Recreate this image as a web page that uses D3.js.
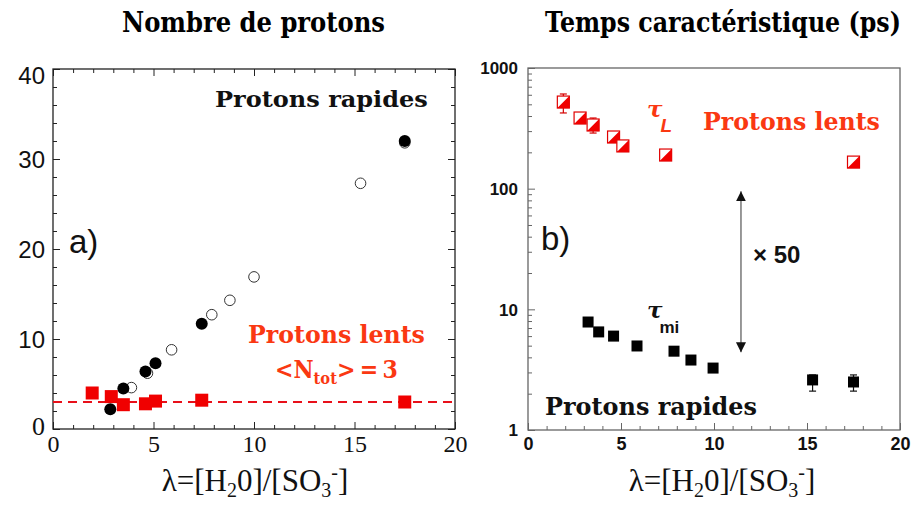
<!DOCTYPE html>
<html><head><meta charset="utf-8">
<script src="https://cdn.jsdelivr.net/npm/d3@7"></script>
<style>body{margin:0;background:#fff}</style>
</head><body>
<svg id="c" width="915" height="511"></svg>
<script>
// ---------- data ----------
const xTickValues = [0, 5, 10, 15, 20];
const nTickValues = [0, 10, 20, 30, 40];
const tauTickValues = [1, 10, 100, 1000];

// Panel a) : number of protons
const fastFilledX = [2.85, 3.5, 4.6, 5.1, 7.4, 17.5];
const fastFilledY = [2.2, 4.5, 6.4, 7.3, 11.7, 32.0];
const fastOpenX = [3.9, 4.7, 5.9, 7.9, 8.8, 10.0, 15.3, 17.5];
const fastOpenY = [4.6, 6.2, 8.8, 12.7, 14.3, 16.9, 27.3, 31.8];
const slowNX = [1.95, 2.9, 3.5, 4.6, 5.1, 7.4, 17.5];
const slowNY = [4.0, 3.6, 2.7, 2.8, 3.1, 3.2, 3.0];
const slowMean = 3;

// Panel b) : characteristic times (ps)
const tauLX = [1.9, 2.8, 3.5, 4.6, 5.1, 7.4, 17.5];
const tauLY = [522, 385, 337, 268, 226, 190, 166];
const tauLErrLo = [424, null, 289, null, null, null, null];
const tauLErrHi = [609, null, 385, null, null, null, null];
const tauMiX = [3.23, 3.8, 4.6, 5.86, 7.85, 8.76, 9.95, 15.3, 17.5];
const tauMiY = [7.85, 6.5, 6.0, 4.97, 4.5, 3.8, 3.26, 2.6, 2.5];
const tauMiErrLo = [null, null, null, null, null, null, null, 2.1, 2.1];
const tauMiErrHi = [null, null, null, null, null, null, null, 2.86, 2.86];
const arrowX = 11.45, arrowTop = 95, arrowBottom = 4.4;

// ---------- setup ----------
const svg = d3.select("#c");
const RED = "#f00000";
const TXTRED = "#fa3812";
const serif = "'DejaVu Serif', serif";
const tserif = "'Liberation Serif', serif";
const sans = "'Liberation Sans', Arial, sans-serif";

const xL = d3.scaleLinear([0, 20], [53, 455]);
const yL = d3.scaleLinear([0, 40], [429, 69]);
const xR = d3.scaleLinear([0, 20], [528, 900]);
const yR = d3.scaleLog([1, 1000], [430, 68]);

// horizontally scale a text (placed at its x,y) so that it spans width w
function fitText(sel, w) {
  const x = +sel.attr("x"), y = +sel.attr("y");
  const bw = sel.node().getBBox().width;
  sel.attr("x", 0).attr("y", 0)
    .attr("transform", `translate(${x},${y}) scale(${w / bw},1)`);
  return sel;
}

// ---------- titles ----------
fitText(svg.append("text").attr("x", 122).attr("y", 32)
  .attr("font-family", serif).attr("font-weight", "bold").attr("font-size", 27)
  .text("Nombre de protons"), 263);
fitText(svg.append("text").attr("x", 545).attr("y", 32)
  .attr("font-family", serif).attr("font-weight", "bold").attr("font-size", 27)
  .text("Temps caractéristique (ps)"), 356);

// ---------- panel a ----------
const gA = svg.append("g");
function ticks(g, axis, tx, ty) {
  const t = g.append("g").attr("transform", `translate(${tx},${ty})`).call(axis);
  t.select(".domain").remove();
  t.selectAll("line").attr("stroke", "#222").attr("stroke-width", 1);
  return t;
}
const minorX = d3.range(0, 21, 1).filter(v => v % 5 !== 0);
const majorX = xTickValues;
const minorN = d3.range(0, 41, 2).filter(v => v % 10 !== 0);
ticks(gA, d3.axisBottom(xL).tickValues(minorX).tickSize(-4).tickFormat(""), 0, yL(0));
ticks(gA, d3.axisBottom(xL).tickValues(majorX).tickSize(-7).tickFormat(""), 0, yL(0));
ticks(gA, d3.axisTop(xL).tickValues(minorX).tickSize(-4).tickFormat(""), 0, yL(40));
ticks(gA, d3.axisTop(xL).tickValues(majorX).tickSize(-7).tickFormat(""), 0, yL(40));
ticks(gA, d3.axisLeft(yL).tickValues(minorN).tickSize(-4).tickFormat(""), xL(0), 0);
ticks(gA, d3.axisLeft(yL).tickValues(nTickValues).tickSize(-7).tickFormat(""), xL(0), 0);
ticks(gA, d3.axisRight(yL).tickValues(minorN).tickSize(-4).tickFormat(""), xL(20), 0);
ticks(gA, d3.axisRight(yL).tickValues(nTickValues).tickSize(-7).tickFormat(""), xL(20), 0);

gA.append("rect").attr("x", xL(0)).attr("y", yL(40))
  .attr("width", xL(20) - xL(0)).attr("height", yL(0) - yL(40))
  .attr("fill", "none").attr("stroke", "#222").attr("stroke-width", 1.3);

// tick labels a
const labXA = gA.append("g").attr("transform", `translate(0,${yL(0) + 6})`)
  .call(d3.axisBottom(xL).tickValues(xTickValues).tickSize(0).tickPadding(0));
labXA.select(".domain").remove();
labXA.selectAll("text").attr("font-family", tserif).attr("font-size", 24).attr("fill", "#111").attr("dy", "0.7em");
const labYA = gA.append("g").attr("transform", `translate(${xL(0) - 8},0)`)
  .call(d3.axisLeft(yL).tickValues(nTickValues).tickSize(0).tickPadding(0));
labYA.select(".domain").remove();
labYA.selectAll("text").attr("font-family", d => d === 0 ? tserif : sans)
  .attr("font-size", d => d === 0 ? 26 : 24).attr("fill", "#111")
  .attr("dy", d => d === 40 ? "0.62em" : (d === 0 ? "0.2em" : "0.36em"));

// dashed mean line
gA.append("line").attr("x1", xL(0)).attr("x2", xL(20)).attr("y1", yL(slowMean)).attr("y2", yL(slowMean))
  .attr("stroke", "#e8101a").attr("stroke-width", 2).attr("stroke-dasharray", "9,6");

gA.selectAll("circle.open").data(fastOpenX).join("circle").attr("class", "open")
  .attr("cx", d => xL(d)).attr("cy", (d, i) => yL(fastOpenY[i])).attr("r", 5.3)
  .attr("fill", "#fff").attr("stroke", "#333").attr("stroke-width", 1);
gA.selectAll("circle.fill").data(fastFilledX).join("circle").attr("class", "fill")
  .attr("cx", d => xL(d)).attr("cy", (d, i) => yL(fastFilledY[i])).attr("r", 6)
  .attr("fill", "#000");
gA.selectAll("rect.slow").data(slowNX).join("rect").attr("class", "slow")
  .attr("x", d => xL(d) - 6.5).attr("y", (d, i) => yL(slowNY[i]) - 6.5)
  .attr("width", 13).attr("height", 13).attr("fill", RED);

// annotations a
fitText(gA.append("text").attr("x", 215).attr("y", 107).attr("font-family", serif)
  .attr("font-weight", "bold").attr("font-size", 22).attr("fill", "#111").text("Protons rapides"), 213);
gA.append("text").attr("x", 69).attr("y", 253).attr("font-family", sans)
  .attr("font-size", 33).attr("fill", "#111").text("a)");
fitText(gA.append("text").attr("x", 248).attr("y", 343).attr("font-family", serif)
  .attr("font-weight", "bold").attr("font-size", 25).attr("fill", TXTRED).text("Protons lents"), 177);
const nt = gA.append("text").attr("x", 275).attr("y", 378).attr("font-family", serif)
  .attr("font-weight", "bold").attr("font-size", 24).attr("fill", TXTRED);
nt.append("tspan").text("<N");
nt.append("tspan").attr("font-size", 16).attr("dy", 6).text("tot");
nt.append("tspan").attr("dy", -6).text(">\u2009=\u20093");
fitText(nt, 123);

// x titles
function lambdaTitle(cx) {
  const t = svg.append("text").attr("x", cx).attr("y", 491).attr("text-anchor", "middle")
    .attr("font-family", tserif).attr("font-size", 31).attr("fill", "#111");
  t.append("tspan").text("λ=[H");
  t.append("tspan").attr("font-size", 20).attr("dy", 6).text("2");
  t.append("tspan").attr("dy", -6).text("0]/[SO");
  t.append("tspan").attr("font-size", 20).attr("dy", 6).text("3");
  t.append("tspan").attr("font-size", 20).attr("dy", -18).text("-");
  t.append("tspan").attr("dy", 12).text("]");
}
lambdaTitle(255);
lambdaTitle(722);

// ---------- panel b ----------
const gB = svg.append("g");
const minorXR = d3.range(0, 21, 1).filter(v => v % 5 !== 0);
const logMinor = [];
[1, 10, 100].forEach(dec => d3.range(2, 10).forEach(m => logMinor.push(dec * m)));
ticks(gB, d3.axisBottom(xR).tickValues(minorXR).tickSize(-4).tickFormat(""), 0, yR(1));
ticks(gB, d3.axisBottom(xR).tickValues(xTickValues).tickSize(-7).tickFormat(""), 0, yR(1));
ticks(gB, d3.axisLeft(yR).tickValues(logMinor).tickSize(-4).tickFormat(""), xR(0), 0);
ticks(gB, d3.axisLeft(yR).tickValues(tauTickValues).tickSize(-7).tickFormat(""), xR(0), 0);
gB.selectAll("line").attr("stroke", "#666");
gB.append("rect").attr("x", xR(0)).attr("y", yR(1000))
  .attr("width", xR(20) - xR(0)).attr("height", yR(1) - yR(1000))
  .attr("fill", "none").attr("stroke", "#666").attr("stroke-width", 1.3);

const labXB = gB.append("g").attr("transform", `translate(0,${yR(1) + 7})`)
  .call(d3.axisBottom(xR).tickValues(xTickValues).tickSize(0).tickPadding(0));
labXB.select(".domain").remove();
labXB.selectAll("text").attr("font-family", sans).attr("font-weight", "bold").attr("font-size", 18)
  .attr("fill", "#111").attr("dy", "0.72em");
const labYB = gB.append("g").attr("transform", `translate(${xR(0) - 10},0)`)
  .call(d3.axisLeft(yR).tickValues(tauTickValues).tickSize(0).tickPadding(0).tickFormat(d3.format("d")));
labYB.select(".domain").remove();
labYB.selectAll("text").attr("font-family", sans).attr("font-weight", "bold").attr("font-size", 17)
  .attr("fill", "#111").attr("dy", "0.35em");

// error bars
function errBars(g, xs, lo, hi, xs_, ys_, color) {
  xs.forEach((x, i) => {
    if (lo[i] == null) return;
    const px = xs_(x), y1 = ys_(lo[i]), y2 = ys_(hi[i]);
    g.append("line").attr("x1", px).attr("x2", px).attr("y1", y1).attr("y2", y2).attr("stroke", color).attr("stroke-width", 1.2);
    [y1, y2].forEach(y => g.append("line").attr("x1", px - 3.5).attr("x2", px + 3.5).attr("y1", y).attr("y2", y)
      .attr("stroke", color).attr("stroke-width", 1.2));
  });
}
errBars(gB, tauLX, tauLErrLo, tauLErrHi, xR, yR, "#d40000");
errBars(gB, tauMiX, tauMiErrLo, tauMiErrHi, xR, yR, "#111");

// half filled squares
const s = 12;
const hs = gB.selectAll("g.hs").data(tauLX).join("g").attr("class", "hs")
  .attr("transform", (d, i) => `translate(${xR(d)},${yR(tauLY[i])})`);
hs.append("rect").attr("x", -s / 2).attr("y", -s / 2).attr("width", s).attr("height", s)
  .attr("fill", "#fff").attr("stroke", "#e00000").attr("stroke-width", 1.2);
hs.append("path").attr("d", `M${s / 2},${-s / 2}L${s / 2},${s / 2}L${-s / 2},${s / 2}Z`).attr("fill", "#f00000");

gB.selectAll("rect.mi").data(tauMiX).join("rect").attr("class", "mi")
  .attr("x", d => xR(d) - 5.5).attr("y", (d, i) => yR(tauMiY[i]) - 5.5)
  .attr("width", 11).attr("height", 11).attr("fill", "#000");

// arrow
const defs = svg.append("defs");
defs.append("marker").attr("id", "ah").attr("viewBox", "0 0 10 10").attr("refX", 10).attr("refY", 5)
  .attr("markerWidth", 10).attr("markerHeight", 12).attr("markerUnits", "userSpaceOnUse")
  .attr("orient", "auto-start-reverse")
  .append("path").attr("d", "M0,0L10,5L0,10Z").attr("fill", "#111");
gB.append("line").attr("x1", xR(arrowX)).attr("x2", xR(arrowX))
  .attr("y1", yR(arrowTop)).attr("y2", yR(arrowBottom))
  .attr("stroke", "#777").attr("stroke-width", 1.5)
  .attr("marker-start", "url(#ah)").attr("marker-end", "url(#ah)");
gB.append("text").attr("x", 753).attr("y", 263).attr("font-family", sans).attr("font-weight", "bold")
  .attr("font-size", 24).attr("fill", "#111").text("× 50");

// annotations b
gB.append("text").attr("x", 541).attr("y", 250).attr("font-family", sans)
  .attr("font-size", 33).attr("fill", "#111").text("b)");
const tl = gB.append("text").attr("x", 647).attr("y", 117).attr("font-family", serif)
  .attr("font-style", "italic").attr("font-weight", "bold").attr("fill", TXTRED).attr("font-size", 23);
tl.append("tspan").text("τ");
tl.append("tspan").attr("font-family", sans).attr("font-size", 19).attr("dy", 15).attr("dx", -2).text("L");
fitText(gB.append("text").attr("x", 703).attr("y", 130).attr("font-family", serif)
  .attr("font-weight", "bold").attr("font-size", 25).attr("fill", TXTRED).text("Protons lents"), 177);
const tm = gB.append("text").attr("x", 647).attr("y", 318).attr("font-family", serif)
  .attr("font-style", "italic").attr("font-weight", "bold").attr("fill", "#111").attr("font-size", 23);
tm.append("tspan").text("τ");
tm.append("tspan").attr("font-family", sans).attr("font-style", "normal").attr("font-size", 17).attr("dy", 15).attr("dx", -3).text("mi");
fitText(gB.append("text").attr("x", 545).attr("y", 415).attr("font-family", serif)
  .attr("font-weight", "bold").attr("font-size", 25).attr("fill", "#111").text("Protons rapides"), 212);
</script>
</body></html>
